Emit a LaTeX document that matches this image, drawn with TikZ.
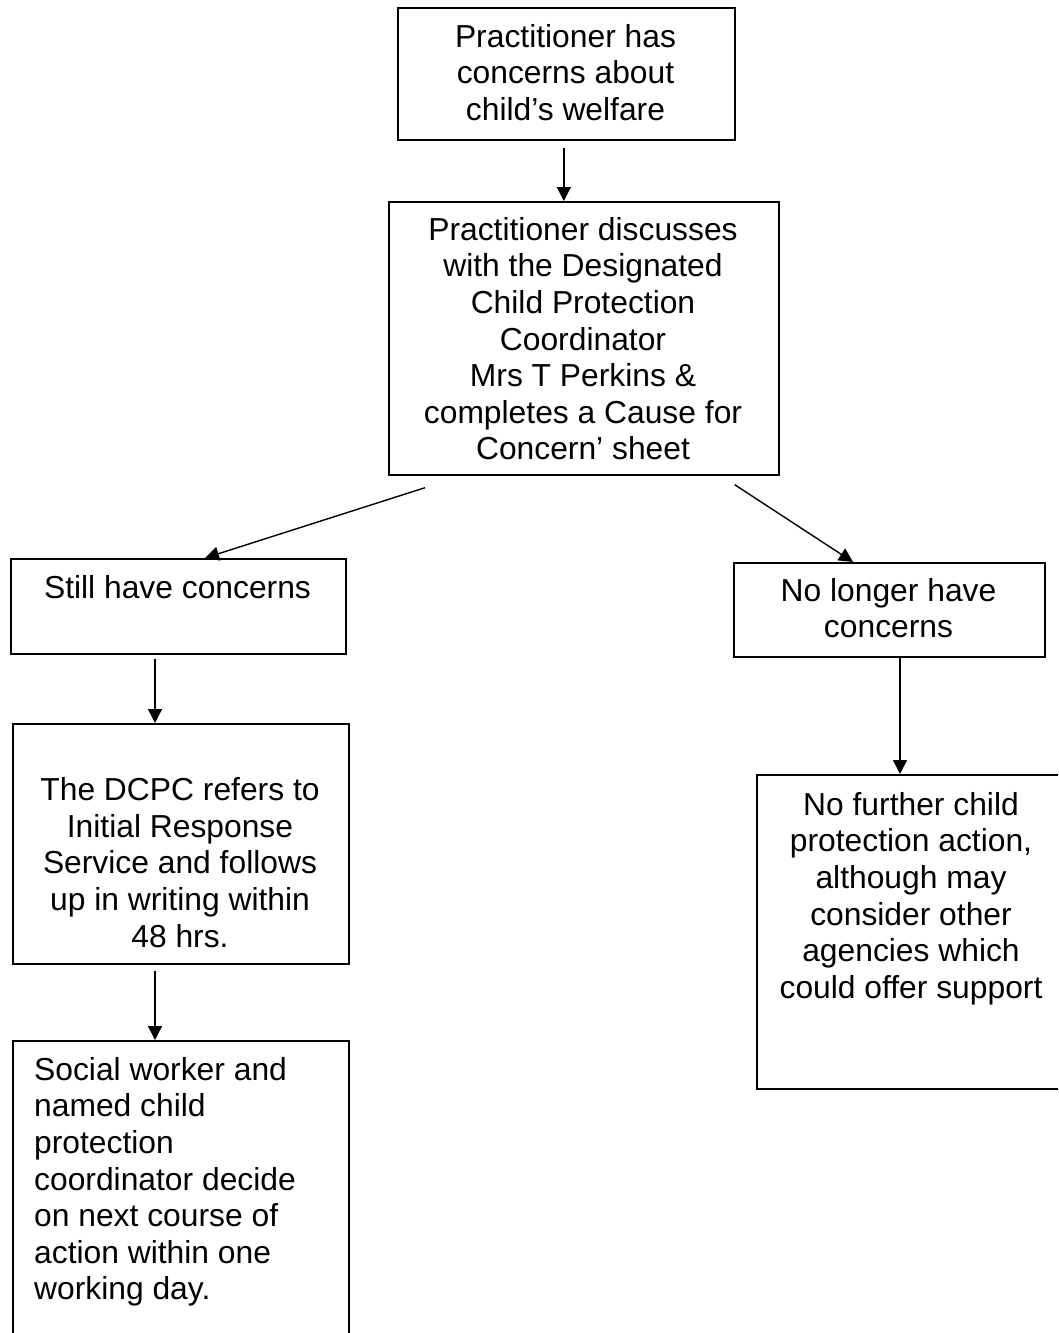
\documentclass[tikz,border=0pt]{standalone}
\usepackage{fontspec}
\setmainfont{Liberation Sans}
\usetikzlibrary{arrows.meta}
\begin{document}
\begin{tikzpicture}[x=1pt,y=-1pt,
  box/.style={draw=black, line width=1.7pt, inner sep=0pt, anchor=north west},
  txt/.style={inner sep=0pt, font=\fontsize{31.8}{36.6}\selectfont, align=center, anchor=north},
  arr/.style={line width=1.4pt, -{Triangle[length=14pt,width=14pt]}}]
\path[use as bounding box] (0,0) rectangle (1058,1333);
\clip (0,0) rectangle (1058,1333);
% boxes
\node[box, minimum width=337pt, minimum height=132pt] (b1) at (397,7) {};
\node[box, minimum width=390pt, minimum height=273pt] (b2) at (388,201) {};
\node[box, minimum width=335pt, minimum height=95pt] (still) at (10,558) {};
\node[box, minimum width=336pt, minimum height=240pt] (dcpc) at (12,723) {};
\node[box, minimum width=336pt, minimum height=320pt] (social) at (12,1040) {};
\node[box, minimum width=311pt, minimum height=94pt] (nolong) at (733,562) {};
\node[box, minimum width=320pt, minimum height=314pt] (nofur) at (756,774) {};
% texts
\node[txt] (t1) at (565.5,24) {Practitioner has\\concerns about\\child’s welfare};
\node[txt] (t2) at (583,217) {Practitioner discusses\\with the Designated\\Child Protection\\Coordinator\\Mrs T Perkins \&\\completes a Cause for\\Concern’ sheet};
\node[txt] (t3) at (177.5,575) {Still have concerns};
\node[txt, font=\fontsize{31.8}{36.75}\selectfont] (t4) at (180,777) {The DCPC refers to\\Initial Response\\Service and follows\\up in writing within\\48 hrs.};
\node[txt, align=left, anchor=north west] (t5) at (34,1057) {Social worker and\\named child\\protection\\coordinator decide\\on next course of\\action within one\\working day.};
\node[txt] (t6) at (888.5,578) {No longer have\\concerns};
\node[txt] (t7) at (911,792) {No further child\\protection action,\\although may\\consider other\\agencies which\\could offer support};
% connectors
\draw[arr] ([xshift=-2.5pt,yshift=-7pt]b1.south) -- ([xshift=-2.5pt]b1.south |- b2.north);
\draw[arr] ([shift={(37pt,-12pt)}]b2.south west) -- ([xshift=195pt]still.north west);
\draw[arr] ([shift={(-45pt,-9pt)}]b2.south east) -- ([xshift=120pt]nolong.north west);
\draw[arr] ([shift={(145pt,-4pt)}]still.south west) -- ([xshift=143pt]dcpc.north west);
\draw[arr] ([shift={(143pt,-6pt)}]dcpc.south west) -- ([xshift=143pt]social.north west);
\draw[arr] ([xshift=167pt]nolong.south west) -- ([xshift=144pt]nofur.north west);
\end{tikzpicture}
\end{document}
